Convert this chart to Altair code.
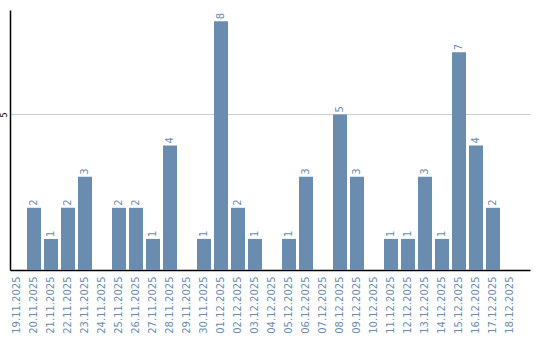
import altair as alt
import pandas as pd

dates = ["19.11.2025","20.11.2025","21.11.2025","22.11.2025","23.11.2025","24.11.2025",
         "25.11.2025","26.11.2025","27.11.2025","28.11.2025","29.11.2025","30.11.2025",
         "01.12.2025","02.12.2025","03.12.2025","04.12.2025","05.12.2025","06.12.2025",
         "07.12.2025","08.12.2025","09.12.2025","10.12.2025","11.12.2025","12.12.2025",
         "13.12.2025","14.12.2025","15.12.2025","16.12.2025","17.12.2025","18.12.2025"]
values = [0,2,1,2,3,0,2,2,1,4,0,1,8,2,1,0,1,3,0,5,3,0,1,1,3,1,7,4,2,0]

df = pd.DataFrame({"date": dates, "value": values})
df["label"] = df["value"].apply(lambda v: str(v) if v > 0 else "")

color = "#6a8caf"

xscale = alt.Scale(paddingInner=0.176, paddingOuter=0.382, align=0)

x = alt.X("date:N", sort=dates, title=None, scale=xscale,
          axis=alt.Axis(labelAngle=-90, labelColor=color, labelFontSize=10,
                        labelFont="DejaVu Sans", labelPadding=6, ticks=False,
                        domainColor="black", labelAlign="right", labelBaseline="middle"))
y = alt.Y("value:Q", title=None,
          scale=alt.Scale(domain=[0, 8.36], nice=False),
          axis=alt.Axis(values=[5], ticks=False, labelAngle=-90, labelFontSize=8,
                        labelFont="DejaVu Sans", labelColor="black", labelPadding=2,
                        labelAlign="center", labelBaseline="bottom",
                        gridColor="#cccccc", domainColor="black"))

bars = alt.Chart(df).mark_bar(color=color).encode(x=x, y=y)
text = alt.Chart(df).mark_text(angle=270, align="left", baseline="middle", dx=2,
                               fontSize=10, font="DejaVu Sans", color=color).encode(
    x=alt.X("date:N", sort=dates, scale=xscale), y="value:Q", text="label:N")

chart = (bars + text).properties(
    width=520, height=260,
    autosize=alt.AutoSizeParams(type="none"),
    padding={"left": 10, "top": 10, "right": 10, "bottom": 70}
).configure_view(stroke=None).configure_axis(domainWidth=1.5)

chart.save("out.html", embed_options={"renderer": "svg", "actions": False})
